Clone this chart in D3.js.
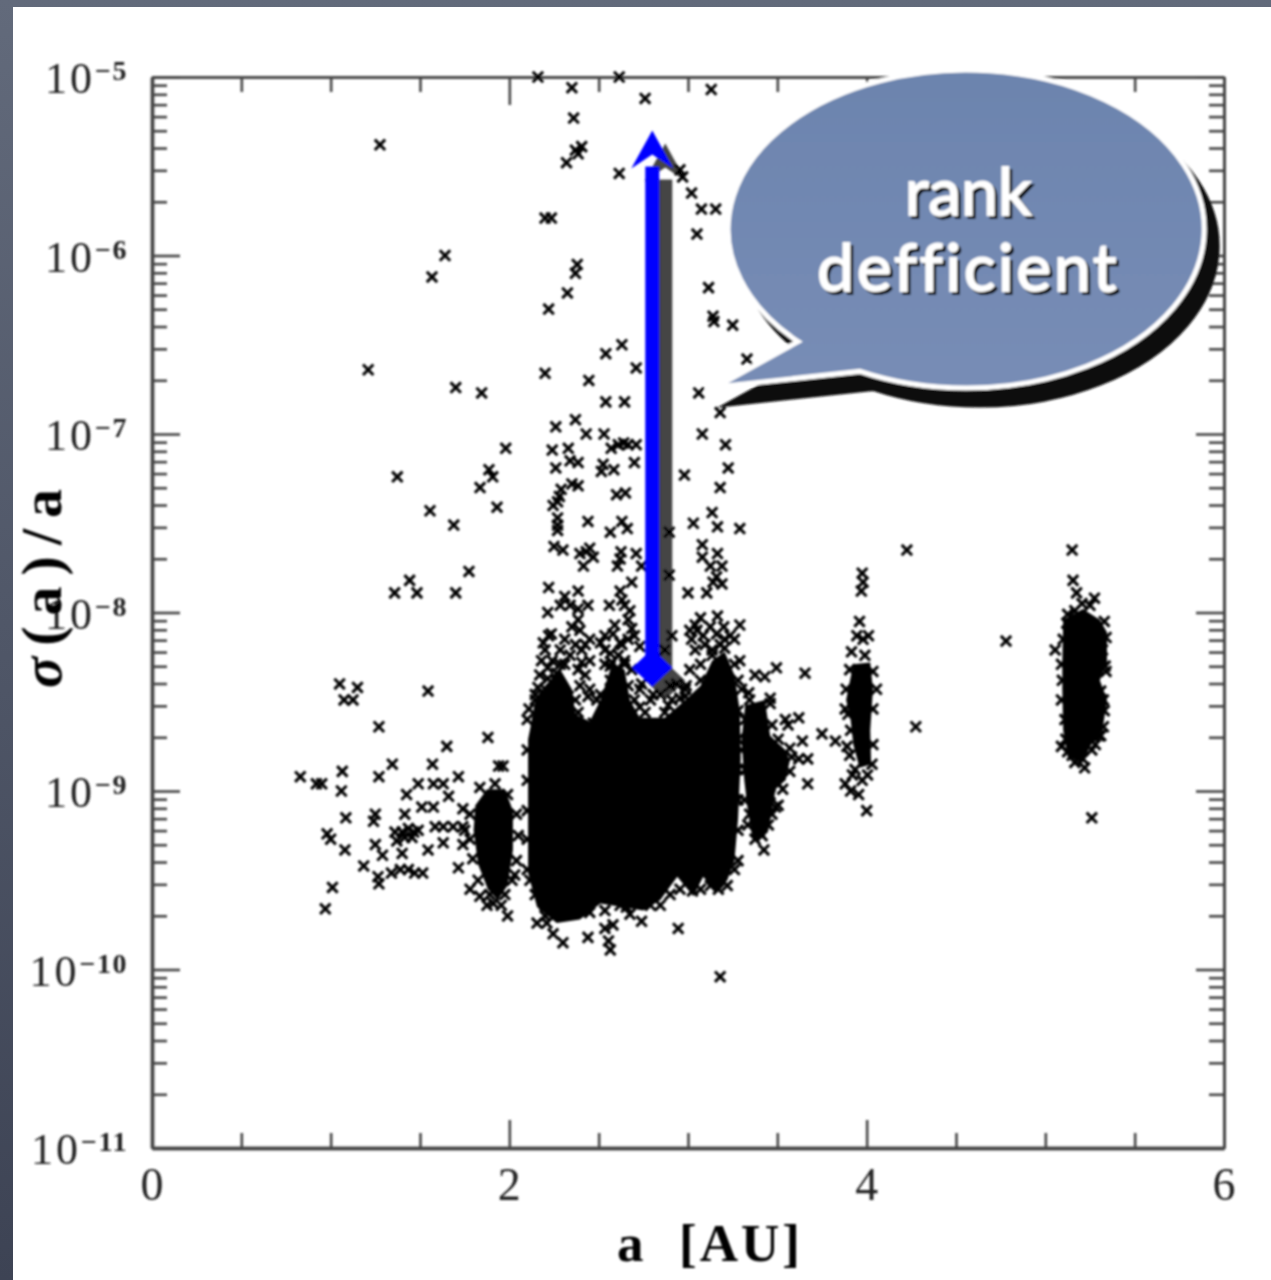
<!DOCTYPE html>
<html>
<head>
<meta charset="utf-8">
<style>
  html, body { margin: 0; padding: 0; background: #4a5163; }
  svg { display: block; }
</style>
<script src="https://cdnjs.cloudflare.com/ajax/libs/d3/7.8.5/d3.min.js"></script>
</head>
<body>
<svg id="chart"></svg>
<script>
// points are [a in AU, exponent of sigma(a)/a]
let upperSpike = [
  [2.16,-5.00],[2.35,-5.06],[2.615,-5.00],[2.76,-5.12],[3.13,-5.07],[2.36,-5.23],[2.405,-5.39],[2.37,-5.41],
  [2.385,-5.43],[2.32,-5.48],[2.615,-5.54],[2.955,-5.52],[2.97,-5.56],[3.02,-5.65],[3.075,-5.74],[3.155,-5.74],
  [2.20,-5.79],[2.235,-5.79],[3.05,-5.88],[2.38,-6.05],[2.37,-6.10],[2.325,-6.21],[2.22,-6.30],[3.115,-6.18],
  [3.14,-6.34],[3.145,-6.37],[3.25,-6.39],[3.33,-6.58],[2.63,-6.50],[2.54,-6.55],[2.71,-6.63],[2.20,-6.66],
  [2.445,-6.70],[3.06,-6.77],[2.54,-6.82],[2.645,-6.82],[3.18,-6.88],[2.37,-6.92],[2.26,-6.96],[2.43,-7.00],
  [2.53,-7.00],[3.08,-7.00],[3.21,-7.06],[2.24,-7.09],[2.33,-7.08],[2.57,-7.08],[2.61,-7.06],[2.64,-7.05],
  [2.665,-7.06],[2.71,-7.06],[2.34,-7.15],[2.385,-7.16],[2.26,-7.19],[2.70,-7.16],[2.525,-7.17],[2.515,-7.21],
  [2.585,-7.20],[3.225,-7.19],[2.98,-7.23],[3.18,-7.30],[2.35,-7.28],[2.385,-7.29],[2.29,-7.31],[2.28,-7.35],
  [2.245,-7.40],[2.27,-7.38],[2.60,-7.34],[2.65,-7.33],[3.135,-7.44],[2.27,-7.47],[2.27,-7.51],[2.27,-7.54],
  [2.44,-7.49],[2.63,-7.49],[2.66,-7.53],[2.565,-7.55],[3.03,-7.50],[3.165,-7.52],[3.29,-7.53],[2.895,-7.55]
]
let midBand = [
  [3.08,-7.62],[3.08,-7.69],[3.165,-7.67],[3.125,-7.74],[3.19,-7.74],[3.16,-7.80],[3.19,-7.84],[3.14,-7.83],
  [2.25,-7.63],[2.30,-7.65],[2.395,-7.67],[2.43,-7.66],[2.47,-7.69],[2.415,-7.74],[2.45,-7.64],[2.625,-7.66],
  [2.62,-7.70],[2.605,-7.74],[2.71,-7.67],[2.74,-7.74],[2.895,-7.79],[2.685,-7.83],[2.22,-7.86],[3.00,-7.89],
  [3.105,-7.89],[2.62,-7.88],[2.63,-7.93],[2.56,-7.96],[2.645,-7.96],[2.675,-7.99],[2.31,-7.91],[2.385,-7.88],
  [2.285,-7.96],[2.34,-7.96],[2.44,-7.96],[2.385,-7.98],[2.215,-8.00],[2.385,-8.04],[2.35,-8.08],[2.395,-8.10],
  [2.665,-8.04],[2.59,-8.07],[2.685,-8.09],[3.29,-8.07],[3.165,-8.02],[3.07,-8.03],[3.20,-8.08],[3.125,-8.08],
  [3.05,-8.10],[3.01,-8.10],[3.085,-8.13],[3.235,-8.13],[3.16,-8.12],[3.02,-8.15],[3.18,-8.18],[2.91,-8.13],
  [2.22,-8.13],[2.19,-8.17],[2.235,-8.12],[2.425,-8.18],[2.535,-8.13],[2.51,-8.17],[2.62,-8.17],[2.58,-8.12],
  [2.73,-8.19],[2.18,-8.27],[2.285,-8.21],[2.405,-8.28],[2.405,-8.21],[2.565,-8.23],[2.63,-8.18],[2.87,-8.21],
  [2.16,-8.42],[2.11,-8.54],[2.44,-8.47],[2.265,-8.34],[2.33,-8.47],[2.60,-8.32],[2.74,-8.40],[2.805,-8.46],
  [2.73,-8.53],[2.935,-8.40],[2.99,-8.41],[2.955,-8.48],[2.49,-8.66],[2.47,-8.62],[2.66,-8.56]
]
let crowdedTop = [
  [2.20,-8.21],[2.24,-8.27],[2.31,-8.15],[2.34,-8.24],[2.37,-8.18],[2.45,-8.27],[2.45,-8.15],[2.425,-8.35],
  [2.385,-8.32],[2.17,-8.35],[2.215,-8.31],[2.20,-8.43],[2.31,-8.29],[2.45,-8.43],[2.49,-8.49],[2.37,-8.49],
  [2.395,-8.41],[2.145,-8.49],[2.535,-8.21],[2.575,-8.28],[2.665,-8.15],[2.61,-8.24],[2.70,-8.13],[2.645,-8.27],
  [2.535,-8.29],[2.685,-8.32],[2.565,-8.38],[2.665,-8.41],[2.70,-8.49],[2.535,-8.49],[2.79,-8.49],[2.845,-8.46],
  [2.89,-8.52],[2.73,-8.43],[3.04,-8.07],[3.095,-8.18],[3.04,-8.21],[3.205,-8.15],[3.26,-8.15],[3.135,-8.21],
  [3.01,-8.32],[3.07,-8.29],[2.985,-8.43],[2.91,-8.49],[3.29,-8.27],[3.30,-8.43],[2.90,-8.41]
]
let mainBeltEdge = [
  [2.10,-8.60],[2.10,-8.77],[2.10,-8.94],[2.10,-9.11],[2.10,-9.27],[2.10,-9.44],
  [3.28,-8.38],[3.28,-8.55],[3.28,-8.71],[3.28,-8.88],[3.28,-9.05],[3.28,-9.22],[3.28,-9.39],
  [2.34,-9.64],[2.45,-9.68],[2.62,-9.64],[2.79,-9.64],[2.90,-9.58],[3.125,-9.53],[2.20,-9.70],
  [3.07,-8.38],[3.135,-8.24],[3.205,-8.20],[3.26,-8.29],[2.985,-8.47],[2.87,-8.56],[2.76,-8.56],
  [2.51,-8.46],[2.565,-8.30],[2.645,-8.29],[2.285,-8.29],[2.215,-8.37],[2.145,-8.46],[2.385,-8.56],
  [2.945,-9.77],[3.18,-10.04],[2.44,-9.82],[2.555,-9.84],[2.565,-9.89],[2.30,-9.85],[2.535,-9.77],[2.58,-9.75],
  [2.74,-9.73],[2.21,-9.74],[2.155,-9.74],[2.245,-9.80],[2.655,-9.65],[3.025,-9.56],[3.17,-9.55],
  [2.115,-9.50],[2.145,-9.58],[2.20,-9.64],[2.45,-9.61],[2.535,-9.67],[2.675,-9.69],[2.845,-9.64],[2.955,-9.55],
  [3.26,-9.44],[3.22,-9.53],[3.07,-9.55]
]
let outerPoints = [
  [3.375,-8.35],[3.43,-8.36],[3.34,-8.45],[3.395,-8.55],[3.495,-8.31],[3.655,-8.34],[3.46,-8.48],[3.545,-8.60],
  [3.62,-8.59],[3.56,-8.63],[3.75,-8.68],[3.64,-8.72],[3.825,-8.72],[3.89,-8.75],[3.62,-8.82],[3.67,-8.82],
  [3.67,-8.96],[3.505,-9.08],[3.505,-8.96],[4.00,-9.11],[3.88,-8.96],[3.91,-9.00],[3.955,-9.02],[3.425,-9.33],
  [3.40,-9.23],[4.275,-8.64],[3.96,-8.05],[3.945,-8.13],[3.98,-8.15],[4.01,-8.13],[3.915,-8.22],[3.99,-8.24],
  [3.975,-7.78],[3.98,-7.83],[3.97,-7.88],[4.225,-7.65],[4.78,-8.16],[5.15,-7.65],[5.155,-7.82],[5.175,-7.89],
  [5.275,-7.92],[5.205,-7.95],[5.055,-8.21],[5.26,-9.15],[5.09,-8.75],[5.26,-8.77],[5.21,-8.82],[5.15,-8.80],
  [5.325,-8.49],[5.325,-8.64],[5.335,-8.30]
]
let cybeleEdge = [
  [3.345,-8.49],[3.46,-8.51],[3.32,-8.60],[3.47,-8.63],[3.505,-8.71],[3.57,-8.76],[3.58,-8.81],[3.57,-8.89],
  [3.515,-8.91],[3.53,-8.99],[3.46,-9.02],[3.47,-9.13],[3.49,-9.09],[3.335,-9.19],[3.315,-9.05],[3.32,-8.88],
  [3.30,-8.77],[3.375,-9.27],[3.415,-9.25],[3.345,-9.13],[3.45,-9.19],[3.43,-8.88]
]
let hildaEdge = [
  [3.905,-8.32],[4.035,-8.33],[4.055,-8.43],[4.035,-8.54],[3.885,-8.43],[3.88,-8.54],[3.91,-8.66],[4.035,-8.74],
  [3.905,-8.80],[4.03,-8.85],[3.935,-8.88],[4.005,-8.91],[3.975,-8.94],[3.92,-8.91],[3.895,-8.57]
]
let trojanEdge = [
  [5.12,-8.06],[5.10,-8.15],[5.09,-8.29],[5.095,-8.38],[5.09,-8.49],[5.11,-8.60],[5.115,-8.71],
  [5.33,-8.05],[5.34,-8.14],[5.32,-8.21],[5.34,-8.33],[5.31,-8.44],[5.33,-8.55],[5.31,-8.69],
  [5.165,-7.99],[5.25,-7.96],[5.125,-8.01],[5.165,-8.84],[5.125,-8.78],[5.28,-8.74],[5.22,-8.87],[5.30,-8.69]
]
let hungariaEdge = [
  [1.835,-8.98],[1.92,-8.96],[1.99,-9.02],[2.04,-9.13],[2.05,-9.25],[2.04,-9.39],[1.78,-9.13],[1.78,-9.27],
  [1.795,-9.38],[1.825,-9.50],[1.89,-9.58],[1.975,-9.58],[2.015,-9.50],[1.75,-9.22],[1.955,-9.64],[1.875,-9.64]
]
let innerPoints = [
  [1.21,-6.64],[1.70,-6.74],[1.845,-6.77],[1.98,-7.08],[1.886,-7.20],[1.907,-7.24],[1.836,-7.30],[1.931,-7.41],
  [1.373,-7.24],[1.556,-7.43],[1.689,-7.51],[1.774,-7.77],[1.442,-7.82],[1.358,-7.89],[1.483,-7.89],[1.70,-7.89],
  [1.276,-5.38],[1.64,-6.00],[1.567,-6.12],[1.545,-8.44],[1.27,-8.64],[1.05,-8.40],[1.15,-8.42],[1.075,-8.49],
  [1.125,-8.49],[1.88,-8.70],[1.65,-8.75],[1.345,-8.85],[1.57,-8.85],[1.065,-8.89],[1.965,-8.86],[1.94,-8.86],
  [0.83,-8.92],[0.92,-8.96],[0.95,-8.96],[1.27,-8.92],[1.715,-8.92],[1.49,-8.96],[1.575,-8.96],[1.63,-8.96],
  [1.06,-9.00],[1.425,-9.02],[1.66,-9.03],[1.51,-9.09],[1.575,-9.09],[1.085,-9.15],[1.415,-9.13],[1.25,-9.13],
  [1.24,-9.17],[1.74,-9.10],[0.98,-9.24],[1.00,-9.27],[1.36,-9.23],[1.37,-9.28],[1.40,-9.23],[1.435,-9.21],
  [1.465,-9.23],[1.415,-9.26],[1.455,-9.26],[1.49,-9.22],[1.585,-9.20],[1.63,-9.20],[1.685,-9.20],[1.74,-9.20],
  [1.25,-9.30],[1.08,-9.33],[1.545,-9.33],[1.63,-9.29],[1.74,-9.30],[1.40,-9.35],[1.29,-9.36],[1.185,-9.42],
  [1.715,-9.43],[1.265,-9.48],[1.27,-9.52],[1.34,-9.46],[1.39,-9.44],[1.435,-9.44],[1.47,-9.46],[1.515,-9.46],
  [1.01,-9.54],[0.97,-9.66],[1.78,-9.55],[1.99,-9.70],[2.03,-9.47],[1.835,-9.59],[1.91,-9.63]
]

// where the crosses pile up into solid black they can't be told apart, so these are outlines of the black areas
let mainBeltCore = [
  [2.115,-8.66],[2.145,-8.49],[2.20,-8.41],[2.285,-8.32],[2.35,-8.43],[2.37,-8.57],[2.45,-8.61],[2.51,-8.49],
  [2.575,-8.29],[2.645,-8.32],[2.675,-8.49],[2.73,-8.59],[2.87,-8.59],[2.985,-8.49],[3.07,-8.41],[3.135,-8.27],
  [3.205,-8.22],[3.26,-8.35],[3.29,-8.55],[3.295,-8.82],[3.28,-9.16],[3.26,-9.39],[3.22,-9.50],[3.16,-9.57],
  [3.085,-9.48],[3.03,-9.59],[2.94,-9.48],[2.845,-9.61],[2.75,-9.67],[2.51,-9.63],[2.395,-9.72],[2.265,-9.74],
  [2.155,-9.65],[2.105,-9.46],[2.105,-8.71]
]
let hungariaCore = [
  [1.875,-8.99],[1.975,-8.99],[2.02,-9.11],[2.02,-9.33],[1.99,-9.53],[1.935,-9.61],[1.88,-9.55],[1.825,-9.41],
  [1.80,-9.22],[1.81,-9.08]
]
let cybeleCore = [
  [3.32,-8.52],[3.43,-8.49],[3.46,-8.69],[3.545,-8.77],[3.57,-8.83],[3.545,-8.94],[3.49,-8.99],[3.47,-9.11],
  [3.45,-9.22],[3.40,-9.26],[3.36,-9.26],[3.335,-9.11],[3.315,-8.94],[3.30,-8.71]
]
let hildaCore = [
  [3.925,-8.29],[4.02,-8.28],[4.035,-8.43],[4.02,-8.66],[4.025,-8.85],[3.96,-8.87],[3.925,-8.74],[3.91,-8.60],[3.885,-8.49]
]
let trojanCore = [
  [5.21,-7.98],[5.305,-8.04],[5.345,-8.11],[5.345,-8.28],[5.305,-8.38],[5.345,-8.49],[5.32,-8.66],[5.25,-8.75],
  [5.21,-8.84],[5.125,-8.81],[5.10,-8.66],[5.095,-8.43],[5.095,-8.28],[5.10,-8.04]
]

let xMajor = [0, 2, 4, 6]
let xMinor = [0.5, 1, 1.5, 2.5, 3, 3.5, 4.5, 5, 5.5]
let yExponents = [-5, -6, -7, -8, -9, -10, -11]
let yMinorFactors = [2, 3, 4, 5, 6, 7, 8, 9]
let xTitle = "a  [AU]"
let bubbleLines = ["rank", "defficient"]

// the arrow on the chart, in data units
let arrowA = 2.8
let arrowFromExp = -8.31
let arrowToExp = -5.30

let width = 1271
let height = 1280
let left = 152, right = 1224, top_ = 77, bottom = 1148

let svg = d3.select("#chart").attr("width", width).attr("height", height)

let defs = svg.append("defs")
let bgGrad = defs.append("linearGradient").attr("id", "bg").attr("x1", 0).attr("x2", 0).attr("y1", 0).attr("y2", 1)
bgGrad.append("stop").attr("offset", "0%").attr("stop-color", "#626a7b")
bgGrad.append("stop").attr("offset", "100%").attr("stop-color", "#3d4354")
let bubbleGrad = defs.append("linearGradient").attr("id", "bubbleFill").attr("x1", 0).attr("x2", 0).attr("y1", 0).attr("y2", 1)
bubbleGrad.append("stop").attr("offset", "0%").attr("stop-color", "#6c84ae")
bubbleGrad.append("stop").attr("offset", "100%").attr("stop-color", "#788db6")
defs.append("filter").attr("id", "soft").attr("x", "-2%").attr("y", "-2%").attr("width", "104%").attr("height", "104%")
  .append("feGaussianBlur").attr("stdDeviation", 0.85)
let textShadow = defs.append("filter").attr("id", "textShadow")
textShadow.append("feDropShadow").attr("dx", 3).attr("dy", 3).attr("stdDeviation", 0).attr("flood-color", "#000")

svg.append("rect").attr("width", width).attr("height", height).attr("fill", "url(#bg)")
svg.append("rect").attr("x", 13).attr("y", 7).attr("width", width - 13).attr("height", height - 7).attr("fill", "#fff")

let xScale = d3.scaleLinear().domain([0, 6]).range([left, right])
let yScale = d3.scaleLog().domain([1e-11, 1e-5]).range([bottom, top_])

let yMajor = yExponents.map(e => Math.pow(10, e))
let yMinor = []
yExponents.slice(0, -1).forEach(e => {
  yMinorFactors.forEach(f => yMinor.push(f * Math.pow(10, e - 1)))
})

let plot = svg.append("g").attr("filter", "url(#soft)")

let drawAxes = () => {
  let addAxis = (axis, x, y, domainWidth) => {
    let g = plot.append("g").attr("transform", "translate(" + x + "," + y + ")").call(axis)
    g.selectAll("text").remove()
    g.selectAll(".domain").attr("stroke", "#444").attr("stroke-width", domainWidth)
    g.selectAll("line").attr("stroke", "#444").attr("stroke-width", 2.6)
  }
  addAxis(d3.axisLeft(yScale).tickValues(yMajor).tickSize(-28).tickSizeOuter(0), left, 0, 3.4)
  addAxis(d3.axisLeft(yScale).tickValues(yMinor).tickSize(-15).tickSizeOuter(0), left, 0, 3.4)
  addAxis(d3.axisRight(yScale).tickValues(yMajor).tickSize(-28).tickSizeOuter(0), right, 0, 3)
  addAxis(d3.axisRight(yScale).tickValues(yMinor).tickSize(-15).tickSizeOuter(0), right, 0, 3)
  addAxis(d3.axisBottom(xScale).tickValues(xMajor).tickSize(-28).tickSizeOuter(0), 0, bottom, 3.4)
  addAxis(d3.axisBottom(xScale).tickValues(xMinor).tickSize(-15).tickSizeOuter(0), 0, bottom, 3.4)
  addAxis(d3.axisTop(xScale).tickValues(xMajor).tickSize(-28).tickSizeOuter(0), 0, top_, 2.6)
  addAxis(d3.axisTop(xScale).tickValues(xMinor).tickSize(-15).tickSizeOuter(0), 0, top_, 2.6)
}

let drawLabels = () => {
  let serif = "'Liberation Serif', serif"
  yExponents.forEach(e => {
    let t = plot.append("text")
      .attr("x", left - 24).attr("y", yScale(Math.pow(10, e)) + 16)
      .attr("text-anchor", "end").attr("font-family", serif).attr("font-size", 44).attr("fill", "#222")
    t.append("tspan").style("letter-spacing", "3px").text("10")
    t.append("tspan").attr("dy", -13).attr("font-size", 28).attr("font-weight", "bold")
      .style("letter-spacing", "1.5px").text("\u2212" + Math.abs(e))
  })
  xMajor.forEach(v => {
    plot.append("text").attr("x", xScale(v)).attr("y", bottom + 52)
      .attr("text-anchor", "middle").attr("font-family", serif).attr("font-size", 46).attr("fill", "#222").text(v)
  })
  plot.append("text").attr("x", 710).attr("y", 1261).attr("text-anchor", "middle")
    .attr("font-family", serif).attr("font-size", 53).attr("font-weight", "bold")
    .style("white-space", "pre").style("letter-spacing", "3px").text(xTitle)
  let yLabel = plot.append("text").attr("transform", "translate(61,583) rotate(-90)").attr("text-anchor", "middle")
    .attr("font-family", serif).attr("font-size", 58).attr("font-weight", "bold").style("letter-spacing", "11px")
  yLabel.append("tspan").attr("font-style", "italic").text("\u03c3")
  yLabel.append("tspan").text("(a)/a")
}

let drawCores = () => {
  let line = d3.line()
    .x(d => xScale(d[0]))
    .y(d => yScale(Math.pow(10, d[1])))
    .curve(d3.curveLinearClosed)
  plot.selectAll("path.core")
    .data([mainBeltCore, hungariaCore, cybeleCore, hildaCore, trojanCore])
    .enter()
    .append("path")
    .attr("class", "core")
    .attr("d", line)
    .attr("fill", "#000")
}

let drawPoints = () => {
  let all = [].concat(upperSpike, midBand, crowdedTop, mainBeltEdge, outerPoints, cybeleEdge, hildaEdge, trojanEdge, hungariaEdge, innerPoints)
  plot.selectAll("path.pt")
    .data(all)
    .enter()
    .append("path")
    .attr("class", "pt")
    .attr("d", "M-5.2,-5.2L5.2,5.2M-5.2,5.2L5.2,-5.2")
    .attr("transform", d => "translate(" + xScale(d[0]) + "," + yScale(Math.pow(10, d[1])) + ")")
    .attr("stroke", "#000")
    .attr("stroke-width", 3)
    .attr("fill", "none")
}

// arrow shape, dx/dy moves the whole thing for the drop shadow
let drawArrow = (parent, color, dx, dy) => {
  let ax = xScale(arrowA) + dx
  let y0 = yScale(Math.pow(10, arrowFromExp)) + dy
  let y1 = yScale(Math.pow(10, arrowToExp)) + dy
  let g = parent.append("g").attr("fill", color)
  g.append("rect").attr("x", ax - 7).attr("y", y1 + 36).attr("width", 14).attr("height", y0 - y1 - 36)
  g.append("path").attr("d", "M" + ax + "," + y1 + "L" + (ax + 21) + "," + (y1 + 38) + "L" + ax + "," + (y1 + 24)
    + "L" + (ax - 21) + "," + (y1 + 38) + "Z")
  g.append("path").attr("d", "M" + ax + "," + (y0 - 19) + "L" + (ax + 20) + "," + y0 + "L" + ax + "," + (y0 + 19)
    + "L" + (ax - 20) + "," + y0 + "Z")
}

// big arc around the top from the lower lip of the tail back to its upper lip
let bubblePath = "M860,371.4 A238,159 0 1 0 798,341.6 L716,387 Z"

let drawBubble = () => {
  plot.append("path").attr("d", bubblePath).attr("transform", "translate(13,17)")
    .attr("fill", "#111").attr("stroke", "#111").attr("stroke-width", 5).attr("stroke-miterlimit", 12)
  plot.append("path").attr("d", bubblePath)
    .attr("fill", "url(#bubbleFill)").attr("stroke", "#fff").attr("stroke-width", 5).attr("stroke-miterlimit", 12)

  let baselines = [215, 291]
  bubbleLines.forEach((t, i) => {
    plot.append("text").attr("x", 968).attr("y", baselines[i])
      .attr("text-anchor", "middle")
      .attr("font-family", "'Comic Sans MS', 'Lato', sans-serif")
      .attr("font-size", 66)
      .style("font-variant-ligatures", "none")
      .style("letter-spacing", i == 1 ? "2.6px" : "0")
      .attr("fill", "#fff").attr("stroke", "#fff").attr("stroke-width", 1.8)
      .attr("filter", "url(#textShadow)")
      .text(t)
  })
}

drawAxes()
drawLabels()
drawArrow(plot, "#444", 13, 13)
drawCores()
drawPoints()
drawArrow(plot, "#0000ff", 0, 0)
drawBubble()
</script>
</body>
</html>
